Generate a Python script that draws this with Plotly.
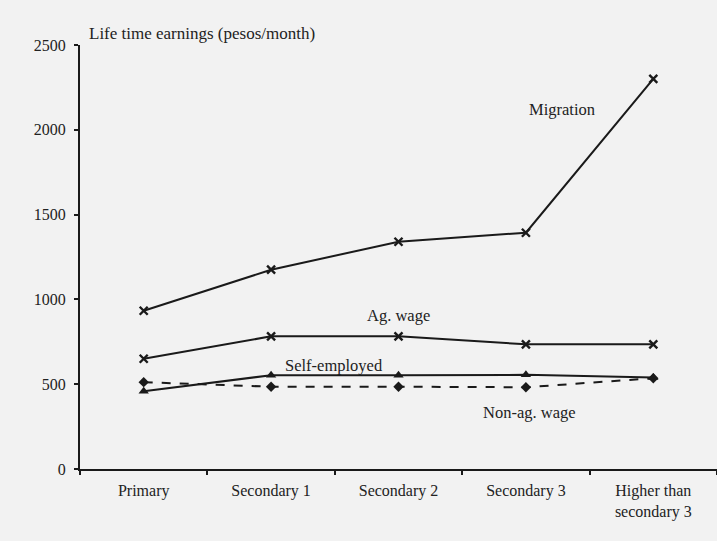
import plotly.graph_objects as go

categories = ["Primary", "Secondary 1", "Secondary 2", "Secondary 3", "Higher than<br>secondary 3"]
migration = [933, 1175, 1340, 1393, 2300]
ag_wage = [650, 782, 782, 735, 735]
self_employed = [458, 553, 553, 555, 540]
non_ag_wage = [512, 485, 485, 482, 535]

y_ticks = [0, 500, 1000, 1500, 2000, 2500]

FONT = "Liberation Serif, Times New Roman, serif"
INK = "#1a1a1a"
TXT = "#222222"
BG = "#f2f2f2"

fig = go.Figure()

fig.add_trace(go.Scatter(
    x=categories, y=migration, mode="lines+markers", name="Migration",
    line=dict(color=INK, width=2),
    marker=dict(symbol="x-thin-open", size=8, color=INK, line=dict(width=2.4, color=INK)),
))
fig.add_trace(go.Scatter(
    x=categories, y=ag_wage, mode="lines+markers", name="Ag. wage",
    line=dict(color=INK, width=2),
    marker=dict(symbol="x-thin-open", size=8, color=INK, line=dict(width=2.4, color=INK)),
))
fig.add_trace(go.Scatter(
    x=categories, y=non_ag_wage, mode="lines+markers", name="Non-ag. wage",
    line=dict(color=INK, width=2, dash="dash"),
    marker=dict(symbol="diamond", size=8, color=INK),
))
fig.add_trace(go.Scatter(
    x=categories, y=self_employed, mode="lines+markers", name="Self-employed",
    line=dict(color=INK, width=2),
    marker=dict(symbol="triangle-up", size=9, color=INK),
))

annotations = [
    dict(text="Life time earnings (pesos/month)", x=0.011, xref="paper", y=2500, yref="y",
         xanchor="left", yanchor="middle", yshift=12, showarrow=False,
         font=dict(size=17, family=FONT, color=TXT)),
    dict(text="Migration", x=3.28, xref="x", y=2117, yref="y", showarrow=False,
         font=dict(size=16.5, family=FONT, color=TXT)),
    dict(text="Ag. wage", x=2.0, xref="x", y=904, yref="y", showarrow=False,
         font=dict(size=16.5, family=FONT, color=TXT)),
    dict(text="Self-employed", x=1.49, xref="x", y=610, yref="y", showarrow=False,
         font=dict(size=16.5, family=FONT, color=TXT)),
    dict(text="Non-ag. wage", x=3.03, xref="x", y=333, yref="y", showarrow=False,
         font=dict(size=16.5, family=FONT, color=TXT)),
]

fig.update_layout(
    width=717, height=541,
    margin=dict(l=80, r=0, t=45, b=72),
    paper_bgcolor=BG, plot_bgcolor=BG,
    showlegend=False,
    font=dict(family=FONT, size=16, color=TXT),
    annotations=annotations,
    xaxis=dict(
        range=[-0.5, 4.5], showgrid=False, zeroline=False,
        showline=True, linecolor=INK, linewidth=2,
        ticks="outside", tickson="boundaries", ticklen=4, tickcolor=INK, tickwidth=1.5,
        tickfont=dict(size=16, family=FONT, color=TXT),
        ticklabelstandoff=6,
    ),
    yaxis=dict(
        range=[0, 2500], tickvals=y_ticks, showgrid=False, zeroline=False,
        showline=True, linecolor=INK, linewidth=2,
        ticks="outside", ticklen=4, tickcolor=INK, tickwidth=1.5,
        tickfont=dict(size=16, family=FONT, color=TXT),
        ticklabelstandoff=5,
    ),
)

fig.write_html(
    "out.html",
    config={"displayModeBar": False},
    post_script="document.body.style.margin='0';document.body.style.background='%s';" % BG,
)
